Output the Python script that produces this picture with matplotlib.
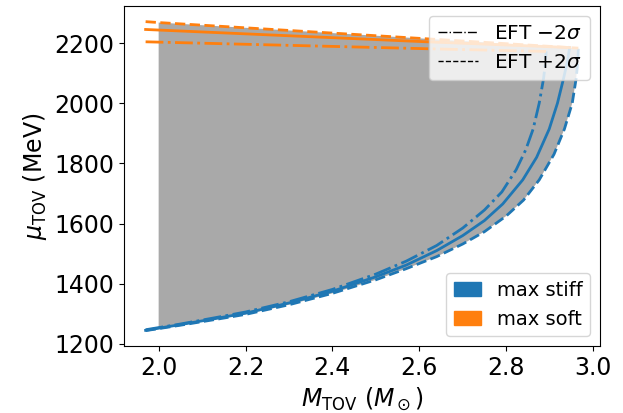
import numpy as np
import matplotlib
matplotlib.use("Agg")
import matplotlib.pyplot as plt
from matplotlib.lines import Line2D
from matplotlib.patches import Patch

# max stiff branch (blue)
stiff_M = [1.970, 2.050, 2.130, 2.200, 2.300, 2.400, 2.500, 2.570, 2.640, 2.700,
           2.750, 2.792, 2.838, 2.870, 2.899, 2.918, 2.932, 2.941, 2.946]
stiff_mu = [1245, 1264, 1284, 1302, 1336, 1375, 1423, 1462, 1510, 1560,
            1610, 1665, 1745, 1820, 1914, 2000, 2082, 2140, 2185]
# EFT -2 sigma
stiff_lo_M = [1.970, 2.050, 2.130, 2.200, 2.300, 2.400, 2.500, 2.570, 2.640, 2.700,
              2.750, 2.790, 2.823, 2.845, 2.862, 2.876, 2.886, 2.890, 2.892]
stiff_lo_mu = [1247, 1266, 1287, 1306, 1340, 1381, 1432, 1475, 1527, 1585,
               1645, 1705, 1779, 1845, 1914, 2000, 2082, 2130, 2172]
# EFT +2 sigma
stiff_hi_M = [1.970, 2.050, 2.130, 2.200, 2.300, 2.400, 2.500, 2.570, 2.640, 2.700,
              2.750, 2.800, 2.840, 2.876, 2.910, 2.934, 2.952, 2.961, 2.965, 2.966]
stiff_hi_mu = [1244, 1262, 1281, 1298, 1330, 1368, 1413, 1450, 1490, 1532,
               1573, 1625, 1678, 1745, 1830, 1914, 2000, 2082, 2140, 2183]

# max soft branch (orange)
soft_M = [1.97, 2.617, 2.946]
soft_mu = [2245, 2204, 2185]
soft_lo_M = [1.97, 2.617, 2.892]
soft_lo_mu = [2204, 2181, 2172]
soft_hi_M = [1.97, 2.0, 2.617, 2.966]
soft_hi_mu = [2271, 2268, 2214, 2183]

M_min = 2.0

fig = plt.figure(figsize=(6.23, 4.13), dpi=100)
ax = fig.add_axes([0.199, 0.162, 0.764, 0.823])

# allowed region between the outer curves
hM, hmu = np.array(stiff_hi_M), np.array(stiff_hi_mu)
sM, smu = np.array(soft_hi_M), np.array(soft_hi_mu)
keep_h = hM >= M_min
keep_s = sM >= M_min
poly_M = np.concatenate([[M_min], hM[keep_h], sM[keep_s][::-1]])
poly_mu = np.concatenate([[np.interp(M_min, hM, hmu)], hmu[keep_h], smu[keep_s][::-1]])
ax.fill(poly_M, poly_mu, color="darkgray", lw=0, zorder=1)

lw = 2
ax.plot(stiff_M, stiff_mu, color="C0", lw=lw, zorder=2)
ax.plot(stiff_lo_M, stiff_lo_mu, color="C0", lw=lw, ls="-.", zorder=2)
ax.plot(stiff_hi_M, stiff_hi_mu, color="C0", lw=lw, ls="--", zorder=2)
ax.plot(soft_M, soft_mu, color="C1", lw=lw, zorder=2)
ax.plot(soft_lo_M, soft_lo_mu, color="C1", lw=lw, ls="-.", zorder=2)
ax.plot(soft_hi_M, soft_hi_mu, color="C1", lw=lw, ls="--", zorder=2)

ax.set_xlabel(r"$M_{\rm TOV}$ ($M_\odot$)", fontsize=17)
ax.set_ylabel(r"$\mu_{\rm TOV}$ (MeV)", fontsize=17)
ax.tick_params(labelsize=17)
ax.set_xticks([2.0, 2.2, 2.4, 2.6, 2.8, 3.0])
ax.set_yticks([1200, 1400, 1600, 1800, 2000, 2200])

style_handles = [Line2D([], [], color="k", lw=1, ls="-."),
                 Line2D([], [], color="k", lw=1, ls="--")]
leg1 = ax.legend(style_handles, [r"EFT $-2\sigma$", r"EFT $+2\sigma$"],
                 loc="upper right", fontsize=14.5)
ax.add_artist(leg1)
color_handles = [Patch(color="C0"), Patch(color="C1")]
ax.legend(color_handles, ["max stiff", "max soft"], loc="lower right",
          fontsize=14, handlelength=1.4)

fig.savefig("out.png", dpi=100)
